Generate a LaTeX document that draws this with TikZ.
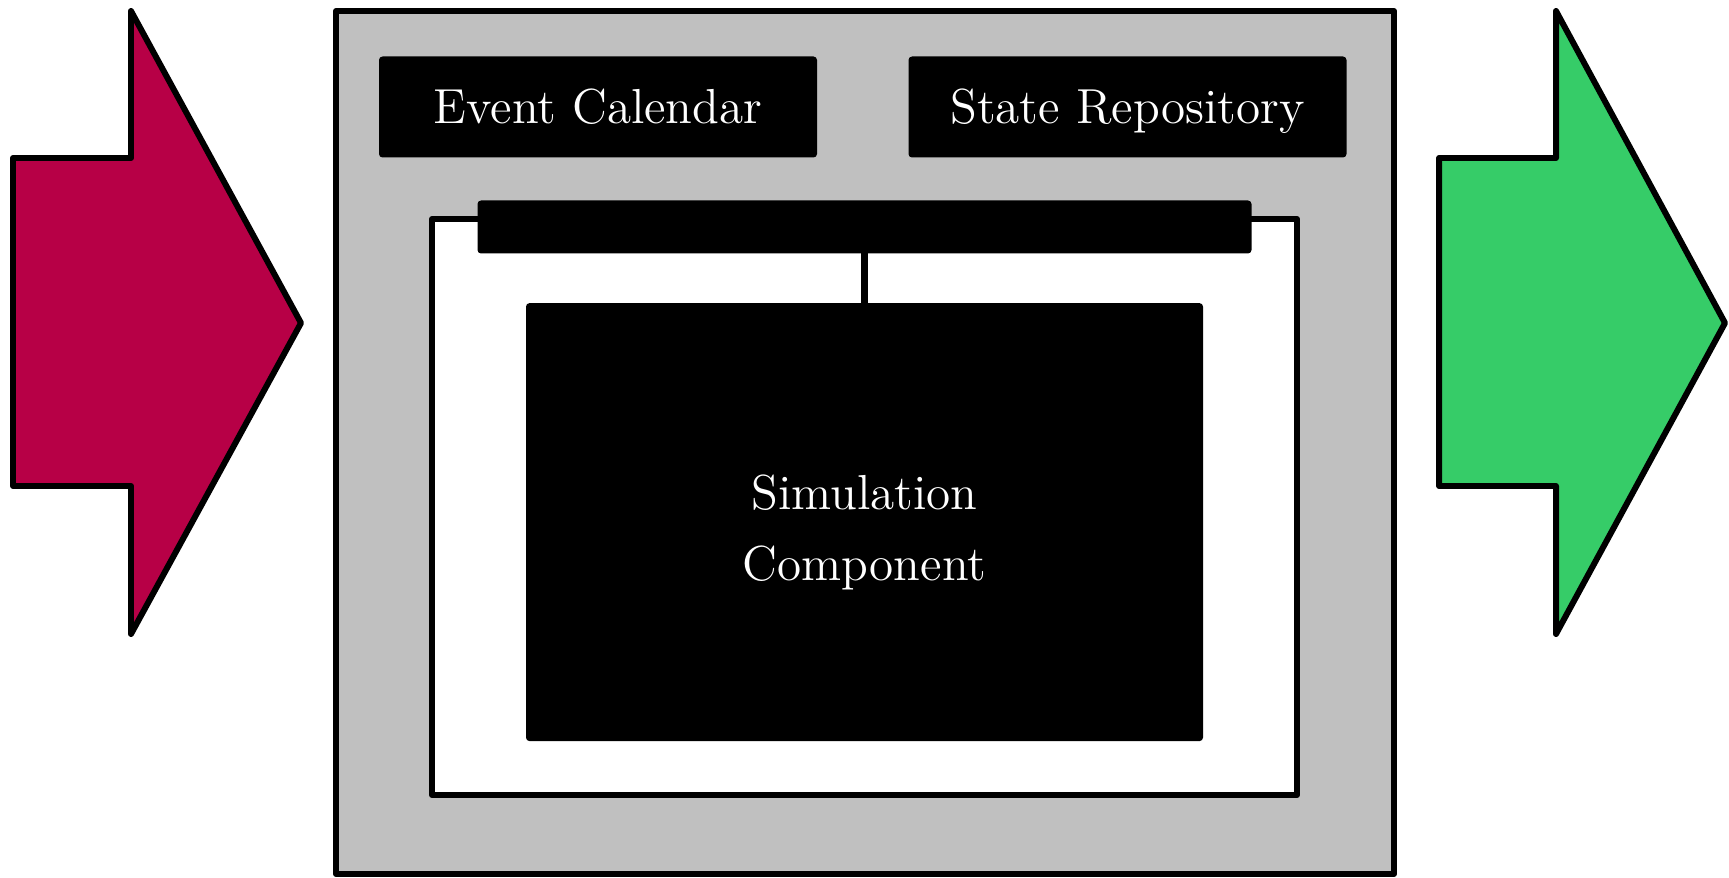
\documentclass[tikz,border=0pt]{standalone}
\usepackage{xcolor}
\usepackage{tikz}
\usetikzlibrary{positioning}

\definecolor{inred}{RGB}{183,0,70}
\definecolor{outgreen}{RGB}{54,204,104}
\definecolor{framegray}{RGB}{192,192,192}

\begin{document}
\begin{tikzpicture}[line width=1.7pt, line join=round,
  blackbox/.style={fill=black, rounded corners=1pt, text=white, inner sep=0pt, outer sep=0pt,
    align=center, font=\fontsize{14}{20}\selectfont}]
\useasboundingbox (0, 0) rectangle (17.29, 8.77);
% input and output
\draw[fill=inred] (0.13, 7.19) -- (1.31, 7.19) -- (1.31, 8.66) -- (3.01, 5.54) -- (1.31, 2.43) -- (1.31, 3.91) -- (0.13, 3.91) -- cycle;
\draw[fill=outgreen] (14.39, 7.19) -- (15.56, 7.19) -- (15.56, 8.66) -- (17.25, 5.54) -- (15.56, 2.43) -- (15.56, 3.91) -- (14.39, 3.91) -- cycle;
% simulator frame
\draw[fill=framegray] (3.36, 0.03) rectangle (13.94, 8.66);
\node[blackbox, minimum width=4.38cm, minimum height=1.01cm, text height=0.95em, text depth=0pt] (calendar) at (5.98, 7.70) {Event Calendar};
\node[blackbox, minimum width=4.38cm, minimum height=1.01cm, text height=0.95em, text depth=0pt, right=0.915cm of calendar] (repository) {State Repository};
\draw[fill=white] (4.32, 0.82) rectangle (12.97, 6.58);
\node[blackbox, minimum width=7.74cm, minimum height=0.53cm] (bar) at (8.645, 6.50) {};
\node[blackbox, minimum width=6.77cm, minimum height=4.38cm, text height=33pt, text depth=0pt, below=0.496cm of bar] (component) {Simulation\\Component};
\draw[line width=2pt] (bar) -- (component);
\end{tikzpicture}
\end{document}
